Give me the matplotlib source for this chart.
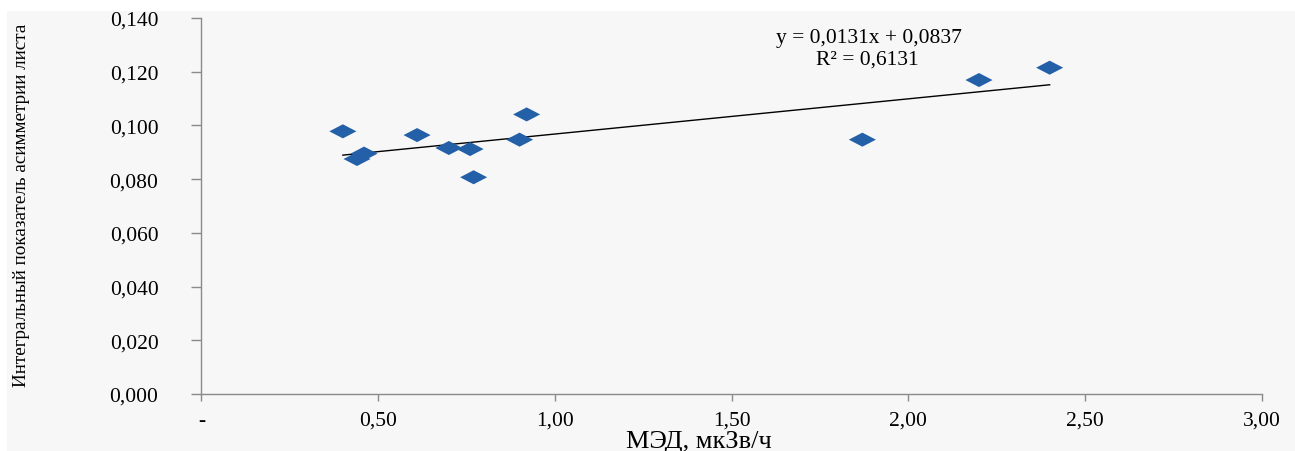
import matplotlib
matplotlib.use("Agg")
import matplotlib.pyplot as plt
from matplotlib.patches import Rectangle

plt.rcParams['font.family'] = ['Liberation Serif', 'DejaVu Serif']

# data
med = [0.40, 0.44, 0.46, 0.61, 0.70, 0.76, 0.77, 0.90, 0.92, 1.87, 2.20, 2.40]
asym = [0.0978, 0.0875, 0.0895, 0.0964, 0.0916, 0.0912, 0.0807, 0.0947, 0.1041, 0.0947, 0.1169, 0.1215]

slope = 0.0131
intercept = 0.0837
trendX = [0.40, 2.40]

xTicks = [0, 0.5, 1.0, 1.5, 2.0, 2.5, 3.0]
xTickLabels = ["-", "0,50", "1,00", "1,50", "2,00", "2,50", "3,00"]
yTicks = [0, 0.02, 0.04, 0.06, 0.08, 0.10, 0.12, 0.14]
yTickLabels = ["0,000", "0,020", "0,040", "0,060", "0,080", "0,100", "0,120", "0,140"]

W, H = 1295, 452
bg = "#f7f7f7"
axisGray = "#8a8a8a"

fig = plt.figure(figsize=(W / 100, H / 100), dpi=100, facecolor="white")
# light gray panel (white strip on top / left)
fig.patches.append(Rectangle((7 / W, 0), 1, 1 - 12 / H, transform=fig.transFigure,
                             facecolor=bg, edgecolor="none", zorder=-1))

ax = fig.add_axes([201.5 / W, 1 - 395 / H, (1261.7 - 201.5) / W, (395 - 19) / H])
ax.set_facecolor(bg)
ax.set_zorder(1)

# diamond markers, wider than tall
diamond = [(-1, 0), (0, 0.52), (1, 0), (0, -0.52), (-1, 0)]
ax.scatter(med, asym, marker=diamond, s=27 ** 2 * 0.52, color="#2360a8",
           edgecolors="none", zorder=3, clip_on=False)

trendY = [slope * x + intercept for x in trendX]
ax.plot(trendX, trendY, color="black", linewidth=1.0, zorder=2)

ax.set_xlim(0, 3.0)
ax.set_ylim(0, 0.14)
ax.set_xticks(xTicks)
ax.set_xticklabels(xTickLabels)
ax.set_yticks(yTicks)
ax.set_yticklabels(yTickLabels)

for side in ["top", "right"]:
    ax.spines[side].set_visible(False)
for side in ["left", "bottom"]:
    ax.spines[side].set_color(axisGray)
    ax.spines[side].set_linewidth(1.0)

ax.tick_params(axis="y", direction="out", length=7, width=1, color=axisGray,
               labelsize=15.5, pad=24)
ax.tick_params(axis="x", direction="out", length=5, width=1, color=axisGray,
               labelsize=15.5, pad=7)

# equation of the trend line
fig.text(869 / W, 1 - 38 / H, "y = 0,0131x + 0,0837", ha="center", va="center",
         fontsize=15.5, zorder=5)
fig.text(867 / W, 1 - 60 / H, "R² = 0,6131", ha="center", va="center",
         fontsize=15.5, zorder=5)

fig.text(699 / W, 1 - 442 / H, "МЭД, мкЗв/ч", ha="center", va="center", fontsize=19)
fig.text(22 / W, 1 - 205 / H, "Интегральный показатель асимметрии листа",
         rotation=90, ha="center", va="center", fontsize=13.8)

fig.savefig("out.png", dpi=100, facecolor=fig.get_facecolor())
